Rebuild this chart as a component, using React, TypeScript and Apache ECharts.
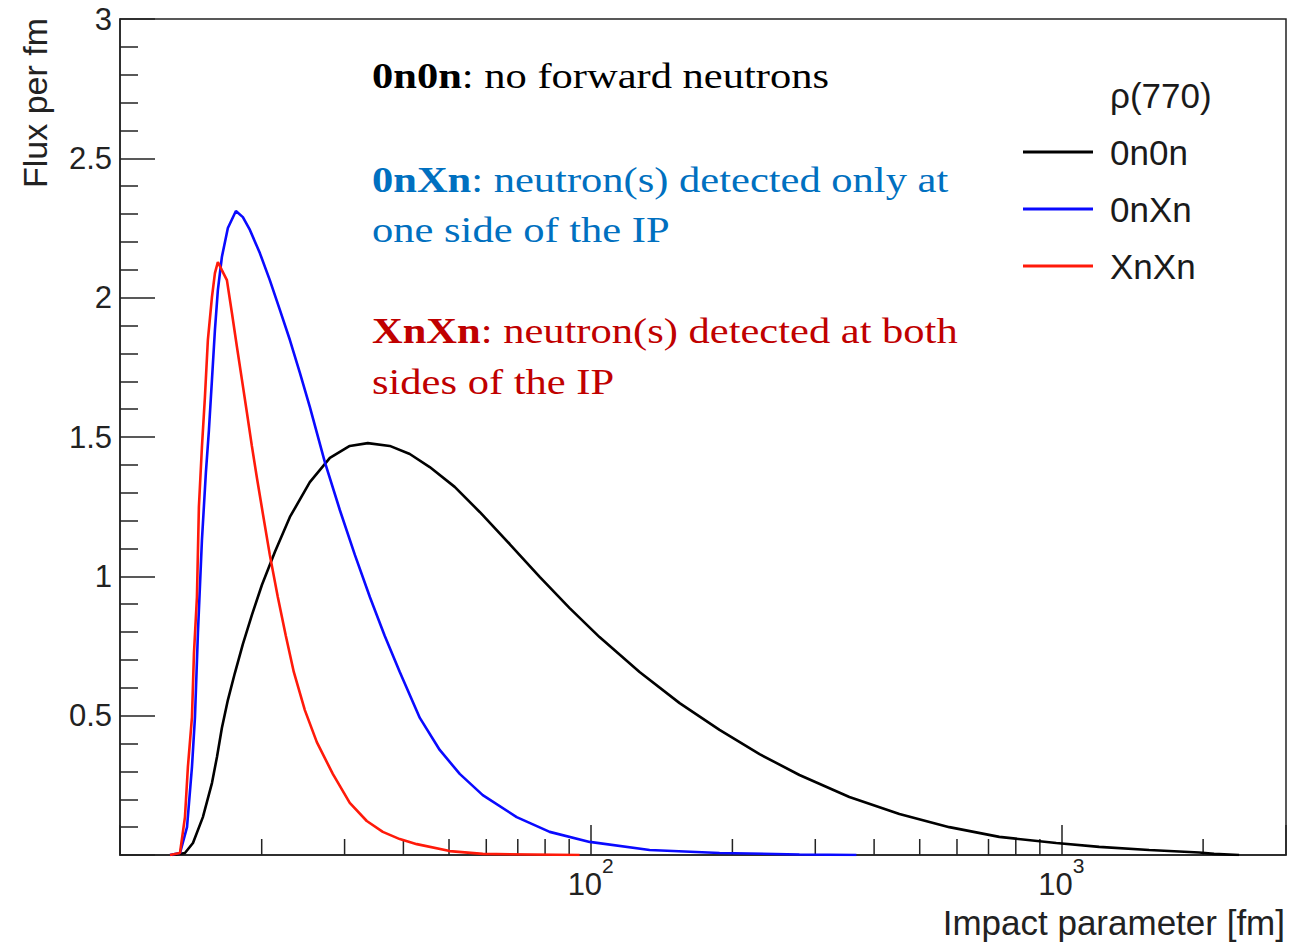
import React, { useEffect, useRef } from 'react';
import * as echarts from 'echarts';

// Impact parameter b [fm] and flux per fm for rho(770) photoproduction,
// split by forward-neutron class.
const impact0n0n = [12.9, 13.74, 14.29, 15.0, 15.68, 16.07, 16.46, 16.95, 17.54, 18.24, 19.06, 20.02, 21.33, 22.96, 25.31, 27.92, 30.77, 33.61, 37.42, 41.27, 45.5, 51.41, 58.1, 67.27, 77.91, 90.21, 104.4, 127.0, 154.5, 187.8, 228.4, 277.6, 354.4, 452.7, 577.9, 738, 975, 1203, 1536, 1962, 2110, 2385];
const flux0n0n = [0, 0.007, 0.043, 0.136, 0.258, 0.352, 0.456, 0.556, 0.653, 0.757, 0.861, 0.969, 1.087, 1.213, 1.338, 1.425, 1.468, 1.478, 1.468, 1.439, 1.392, 1.321, 1.231, 1.116, 0.998, 0.886, 0.782, 0.657, 0.545, 0.449, 0.362, 0.287, 0.208, 0.147, 0.1, 0.065, 0.043, 0.029, 0.018, 0.009, 0.004, 0];

const impact0nXn = [12.77, 13.41, 13.88, 14.22, 14.43, 14.64, 14.93, 15.22, 15.45, 15.68, 15.91, 16.14, 16.46, 16.95, 17.63, 18.24, 18.88, 19.82, 20.81, 21.86, 22.96, 24.11, 25.31, 27.24, 29.31, 31.55, 33.95, 36.52, 39.3, 43.35, 47.78, 52.69, 58.97, 69.62, 81.82, 99.5, 133.4, 187.8, 277.6, 366.8];
const flux0nXn = [0, 0.007, 0.1, 0.316, 0.495, 0.797, 1.13, 1.371, 1.525, 1.705, 1.884, 2.027, 2.146, 2.25, 2.311, 2.289, 2.243, 2.16, 2.063, 1.956, 1.848, 1.73, 1.608, 1.41, 1.238, 1.077, 0.926, 0.786, 0.657, 0.492, 0.377, 0.291, 0.215, 0.136, 0.083, 0.047, 0.018, 0.007, 0.002, 0];

const impactXnXn = [12.77, 13.41, 13.74, 13.94, 14.22, 14.36, 14.57, 14.71, 14.93, 15.15, 15.37, 15.68, 15.91, 16.14, 16.46, 16.87, 17.29, 17.72, 18.16, 18.61, 19.06, 19.54, 20.12, 20.81, 21.64, 22.51, 23.4, 24.7, 26.19, 28.32, 30.77, 33.44, 36.17, 39.3, 42.71, 50.19, 58.97, 94.7];
const fluxXnXn = [0, 0.007, 0.136, 0.316, 0.495, 0.725, 0.926, 1.249, 1.464, 1.643, 1.848, 2.002, 2.088, 2.128, 2.099, 2.063, 1.945, 1.823, 1.705, 1.586, 1.468, 1.353, 1.224, 1.077, 0.926, 0.786, 0.657, 0.52, 0.405, 0.291, 0.187, 0.122, 0.083, 0.057, 0.039, 0.014, 0.004, 0];

const seriesNames = ['0n0n', '0nXn', 'XnXn'];
const seriesColors = ['#000000', '#0a0aff', '#ff1a0a'];
const xMinorTicks = [20, 30, 40, 50, 60, 70, 80, 90, 200, 300, 400, 500, 600, 700, 800, 900, 2000];

const legendHeader = 'ρ(770)';
const xTitle = 'Impact parameter [fm]';
const yTitle = 'Flux per fm';
const noteLines = [
  { text: '{b|0n0n}: no forward neutrons', color: '#000000' },
  { text: '{b|0nXn}: neutron(s) detected only at', color: '#0070c0' },
  { text: 'one side of the IP', color: '#0070c0' },
  { text: '{b|XnXn}: neutron(s) detected at both', color: '#c00000' },
  { text: 'sides of the IP', color: '#c00000' },
];

const SANS = '"Liberation Sans", Arial, Helvetica, sans-serif';
const SERIF = '"Liberation Serif", "Times New Roman", serif';
const INK = '#222222';

export default function App() {
  const ref = useRef<HTMLDivElement>(null);

  useEffect(() => {
    if (!ref.current) return;
    const chart = echarts.init(ref.current, null, { renderer: 'svg' });

    const curves = [
      [impact0n0n, flux0n0n],
      [impact0nXn, flux0nXn],
      [impactXnXn, fluxXnXn],
    ];

    const lineSeries = curves.map(([bs, fs], i) => ({
      type: 'line',
      name: seriesNames[i],
      data: bs.map((b, k) => [b, fs[k]]),
      showSymbol: false,
      symbol: 'none',
      lineStyle: { color: seriesColors[i], width: 2.6 },
      itemStyle: { color: seriesColors[i] },
      z: 5 + i,
    }));

    const noteYs = [76, 180, 230, 331, 382];
    const notes = noteLines.map((n, i) => ({
      type: 'text',
      x: 372,
      y: noteYs[i],
      scaleX: 1.215,
      silent: true,
      z: 20,
      style: {
        text: n.text,
        fontSize: 35,
        fontFamily: SERIF,
        fill: n.color,
        align: 'left',
        verticalAlign: 'middle',
        rich: {
          b: { fontSize: 35, fontFamily: SERIF, fontWeight: 'bold', fill: n.color },
        },
      },
    }));

    chart.setOption({
      animation: false,
      backgroundColor: '#ffffff',
      grid: {
        left: 120,
        right: 18,
        top: 19,
        bottom: 89,
        show: true,
        borderColor: INK,
        borderWidth: 1.5,
        backgroundColor: 'transparent',
      },
      legend: {
        data: seriesNames,
        orient: 'vertical',
        left: 1023,
        top: 132,
        padding: 0,
        itemWidth: 70,
        itemHeight: 3,
        itemGap: 17,
        icon: 'rect',
        selectedMode: false,
        textStyle: {
          fontSize: 35,
          fontFamily: SANS,
          color: '#1a1a1a',
          lineHeight: 40,
          padding: [0, 0, 0, 12],
        },
      },
      xAxis: {
        type: 'log',
        logBase: 10,
        min: 10,
        max: 3000,
        axisLine: { show: true, lineStyle: { color: INK, width: 1.5 } },
        axisTick: { show: true, inside: true, length: 30, lineStyle: { color: INK, width: 1.5 } },
        splitLine: { show: false },
        axisLabel: {
          margin: 0,
          formatter: (v: number) => {
            const e = Math.round(Math.log10(v));
            if (e < 2 || Math.abs(v - Math.pow(10, e)) > 1e-6 * v) return '';
            return `{m|10}{e|${e}}`;
          },
          rich: {
            m: { fontSize: 31, fontFamily: SANS, color: INK, lineHeight: 45, verticalAlign: 'bottom' },
            e: { fontSize: 21, fontFamily: SANS, color: INK, lineHeight: 14, verticalAlign: 'top' },
          },
        },
      },
      yAxis: {
        type: 'value',
        min: 0,
        max: 3,
        interval: 0.5,
        axisLine: { show: true, lineStyle: { color: INK, width: 1.5 } },
        axisTick: { show: true, inside: true, length: 35, lineStyle: { color: INK, width: 1.5 } },
        minorTick: { show: true, splitNumber: 5, length: 18, lineStyle: { color: INK, width: 1.5 } },
        splitLine: { show: false },
        minorSplitLine: { show: false },
        axisLabel: {
          margin: 8,
          fontSize: 31,
          fontFamily: SANS,
          color: INK,
          formatter: (v: number) => (v === 0 ? '' : String(v)),
        },
      },
      series: [
        ...lineSeries,
        {
          type: 'custom',
          name: 'minor ticks',
          silent: true,
          clip: false,
          z: 3,
          data: xMinorTicks.map((v) => [v, 0]),
          renderItem: (_params: any, api: any) => {
            const p = api.coord([api.value(0), 0]);
            return {
              type: 'line',
              shape: { x1: p[0], y1: p[1], x2: p[0], y2: p[1] - 16 },
              style: { stroke: INK, lineWidth: 1.5 },
            };
          },
        },
      ],
      graphic: [
        {
          type: 'text',
          x: 1285,
          y: 922,
          silent: true,
          style: { text: xTitle, fontSize: 35, fontFamily: SANS, fill: INK, align: 'right', verticalAlign: 'middle' },
        },
        {
          type: 'text',
          x: 35,
          y: 103,
          rotation: Math.PI / 2,
          silent: true,
          style: { text: yTitle, fontSize: 34, fontFamily: SANS, fill: INK, align: 'center', verticalAlign: 'middle' },
        },
        {
          type: 'text',
          x: 1110,
          y: 95,
          silent: true,
          style: { text: legendHeader, fontSize: 35, fontFamily: SANS, fill: '#1a1a1a', align: 'left', verticalAlign: 'middle' },
        },
        ...notes,
      ],
    });

    return () => chart.dispose();
  }, []);

  return <div ref={ref} style={{ position: 'absolute', left: 0, top: 0, width: 1304, height: 944 }} />;
}
